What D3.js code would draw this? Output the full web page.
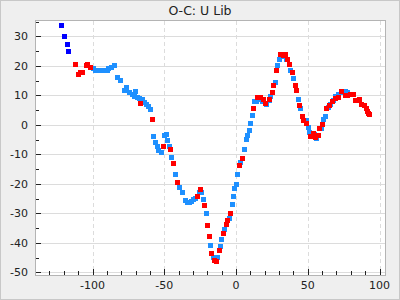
<!DOCTYPE html>
<html><head><meta charset="utf-8">
<script src="https://cdn.jsdelivr.net/npm/d3@7"></script>
<style>html,body{margin:0;padding:0;background:#efefef;}svg{display:block;}</style>
</head><body>
<svg id="c" width="400" height="300"></svg>
<script>
const title = "O-C: U Lib";
const xTicks = [-100, -50, 0, 50, 100];
const yTicks = [-50, -40, -30, -20, -10, 0, 10, 20, 30];

const darkBlue = [[-121.6,33.8],[-119.5,29.8],[-117.4,27.4],[-116.7,25.0]];

const lightBlue = [[-99.3,19.0],[-97.8,18.3],[-96.4,18.3],[-94.8,18.3],[-93.1,18.3],[-91.5,18.3],[-89.9,18.3],
[-88.9,19.2],[-86.8,19.6],[-84.7,20.0],[-82.6,16.2],[-80.3,15.2],[-78,11.8],[-76.1,12.5],[-74.2,10.8],[-72.2,10.3],
[-69.8,11.3],[-70.9,9.6],[-68.9,9.3],[-67.5,9.0],[-65.4,8.7],[-63.6,7.7],[-62.3,7.0],[-60.8,6.2],[-59.6,5.2],
[-57.5,-4.1],[-56.1,-6.1],[-55,-7.2],[-54.1,-8.8],[-52,-9.5],[-49.9,-3.6],[-48.5,-3.4],[-47.6,-5.4],[-46.6,-7.2],
[-45,-11.0],[-42.2,-16.9],[-39.4,-21.2],[-37.4,-23.0],[-35.3,-25.7],[-33.9,-26.3],[-32.5,-26.3],[-31.1,-26.0],
[-29.7,-25.3],[-28.3,-24.8],[-25.8,-23.0],[-23.9,-23.0],[-22.7,-25.4],[-20.4,-30.1],[-17.9,-40.9],[-15.8,-45],
[-14.4,-45.1],[-13,-45],[-10.9,-41.3],[-10.2,-38.9],[-8.1,-35.5],[-4.6,-31.7],[-2.6,-27.1],[-1.9,-24.4],[-1.2,-21.6],
[0.2,-20.3],[0.9,-16.9],[3.0,-12.6],[5.8,-8.5],[7.2,-5.1],[8.0,-3.7],[9.3,-2.0],[10.0,0.3],[11.4,3.0],[12.8,7.8],
[14.2,8.0],[16.2,8.7],[18.3,7.9],[21.1,6.8],[23.2,8.3],[23.9,9.5],[27.4,14.5],[28.8,20.0],[30.2,22.3],[33,23],
[35.0,22.0],[37.8,18.3],[39.9,15.6],[43.4,8.5],[44.8,5.4],[49,1.4],[50.3,-0.9],[51,-2.7],[54.5,-3.4],[55.9,-4.5],
[59.4,-1.4],[60.8,1.9],[62.2,2.7],[64.3,6.0],[65.7,6.8],[67.7,8.1],[69.1,9.7],[71.2,10.4],[73.3,10.9],[76.1,11.2],
[77.5,11.0],[80.3,10.3]];

const red = [[-111.8,20.3],[-109.7,17.2],[-108.4,17.9],[-107,17.7],[-104.4,20.0],[-103.2,20.3],[-101.4,19.6],
[-66.6,7.4],[-58.2,1.8],[-50.6,-7.3],[-45.7,-8.5],[-43.6,-13.2],[-40.8,-19.6],[-26.9,-24.4],[-24.8,-22.0],[-22,-27.4],
[-20,-34.2],[-18.6,-37.9],[-17.2,-43.6],[-15.1,-46],[-13.7,-46.3],[-11.6,-42.5],[-8.8,-36.9],[-6.7,-33.8],[-6.0,-32.5],
[-3.9,-30.1],[2.3,-13.9],[4.4,-11.5],[12.1,5.7],[14.8,9.1],[16.9,9.4],[19.0,8.5],[20.4,7.2],[23.2,8.6],[25.3,10.8],
[26.0,13.2],[28.1,18.3],[30.9,24.0],[32.9,23.6],[34.3,23.8],[35.7,22.2],[37.1,20.6],[39.2,17.7],[41.3,13.5],[41.9,11.5],
[44.1,6.4],[46.2,2.7],[46.9,1.4],[49.0,0.3],[51.7,-3.9],[53.8,-3.0],[55.2,-4.2],[57.3,-3.5],[58.0,-1.1],[60.1,0],
[62.9,5.4],[65.0,6.7],[67.1,7.8],[69.1,8.8],[71.2,9.2],[73.3,11.2],[76.1,10.1],[77.5,10.1],[79.6,10.3],[81.7,10.3],
[83.1,8.2],[84.5,8.2],[85.8,8.5],[87.2,6.9],[89.3,6.7],[90.7,5.5],[91.4,4.5],[92.1,3.7],[92.8,3.4]];

const svg = d3.select("#c");
const L = 36, R = 385, T = 21, B = 275;
const x = d3.scaleLinear().domain([-139.4, 103.8]).range([L, R]);
const y = d3.scaleLinear().domain([-50.9, 35.2]).range([B, T]);

svg.append("rect").attr("x",0.5).attr("y",0.5).attr("width",399).attr("height",299)
  .attr("fill","#efefef").attr("stroke","#c8c8c8");
svg.append("rect").attr("x",L).attr("y",T).attr("width",R-L).attr("height",B-T).attr("fill","#fff");

// grid
svg.append("g").selectAll("line").data(yTicks).join("line")
  .attr("x1",L).attr("x2",R).attr("y1",d=>Math.round(y(d))+0.5).attr("y2",d=>Math.round(y(d))+0.5)
  .attr("stroke","#dcdcdc");
svg.append("g").selectAll("line").data(xTicks).join("line")
  .attr("y1",T).attr("y2",B).attr("x1",d=>Math.round(x(d))+0.5).attr("x2",d=>Math.round(x(d))+0.5)
  .attr("stroke","#dcdcdc").attr("stroke-dasharray","4,3");

// frame
svg.append("rect").attr("x",L-0.5).attr("y",T-0.5).attr("width",R-L+1).attr("height",B-T+1)
  .attr("fill","none").attr("stroke","#b4b4b4");

// y axis ticks
const yMinor = d3.range(-50, 35.1, 5);
svg.append("g").selectAll("line").data(yMinor).join("line")
  .attr("x1",L).attr("x2",d=>L + (d%10===0?5:3))
  .attr("y1",d=>Math.round(y(d))+0.5).attr("y2",d=>Math.round(y(d))+0.5).attr("stroke","#222");
svg.append("g").selectAll("text").data(yTicks).join("text")
  .attr("x",28).attr("y",d=>y(d)+4).attr("text-anchor","end")
  .attr("font-family","DejaVu Sans").attr("font-size",11).attr("fill","#222").text(d=>d);

// x axis ticks
const xMinor = d3.range(-130, 101, 10);
svg.append("g").selectAll("line").data(xMinor).join("line")
  .attr("y1",B).attr("y2",d=>B - (d%50===0?6:4))
  .attr("x1",d=>Math.round(x(d))+0.5).attr("x2",d=>Math.round(x(d))+0.5).attr("stroke","#222");
svg.append("g").selectAll("text").data(xTicks).join("text")
  .attr("x",d=>x(d)).attr("y",289).attr("text-anchor","middle")
  .attr("font-family","DejaVu Sans").attr("font-size",11).attr("fill","#222").text(d=>d);

// title
svg.append("text").attr("x",200).attr("y",15).attr("text-anchor","middle")
  .attr("font-family","DejaVu Sans").attr("font-size",12.5).attr("fill","#222").text(title);

const s = 5;
function plot(data, color){
  svg.append("g").selectAll("rect").data(data).join("rect")
    .attr("x",d=>Math.round(x(d[0])-s/2)).attr("y",d=>Math.round(y(d[1])-s/2))
    .attr("width",s).attr("height",s).attr("fill",color);
}
plot(lightBlue, "#1e90ff");
plot(darkBlue, "#0000ff");
plot(red, "#ff0000");
</script>
</body></html>
